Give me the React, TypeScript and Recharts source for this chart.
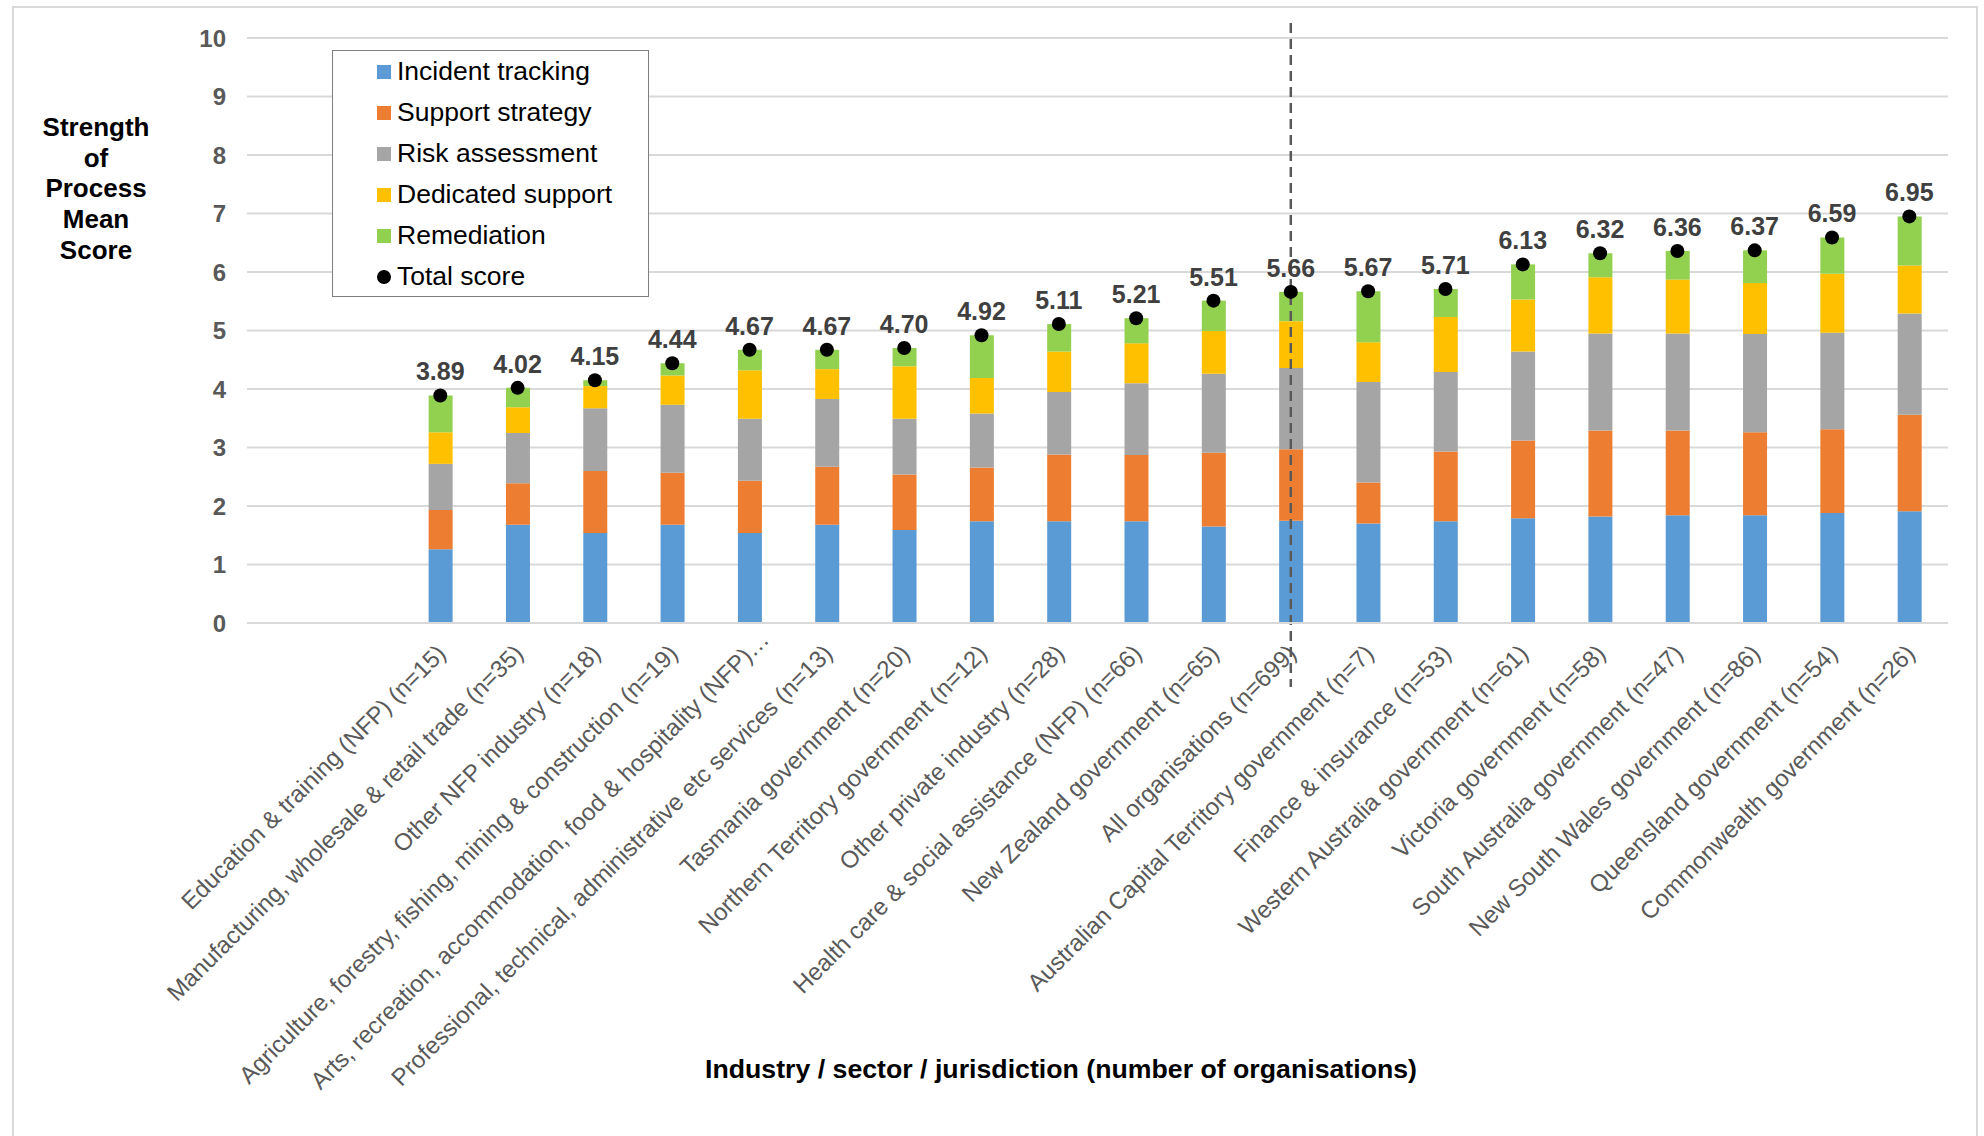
import React from 'react';
import {
  ComposedChart,
  Bar,
  Line,
  XAxis,
  YAxis,
  CartesianGrid,
  Legend,
  Label,
  LabelList,
  ReferenceLine,
} from 'recharts';

const categories = [
  'Education & training (NFP) (n=15)',
  'Manufacturing, wholesale & retail trade (n=35)',
  'Other NFP industry (n=18)',
  'Agriculture, forestry, fishing, mining & construction (n=19)',
  'Arts, recreation, accommodation, food & hospitality (NFP)…',
  'Professional, technical, administrative etc services (n=13)',
  'Tasmania government (n=20)',
  'Northern Territory government (n=12)',
  'Other private industry (n=28)',
  'Health care & social assistance (NFP) (n=66)',
  'New Zealand government (n=65)',
  'All organisations (n=699)',
  'Australian Capital Territory government (n=7)',
  'Finance & insurance (n=53)',
  'Western Australia government (n=61)',
  'Victoria government (n=58)',
  'South Australia government (n=47)',
  'New South Wales government (n=86)',
  'Queensland government (n=54)',
  'Commonwealth government (n=26)',
];

// two empty slots sit left of the first bar in the original
const leadingBlanks = ['', ' '];

const incidentTracking = [1.26, 1.68, 1.54, 1.68, 1.54, 1.68, 1.59, 1.74, 1.74, 1.74, 1.65, 1.75, 1.7, 1.74, 1.79, 1.82, 1.84, 1.84, 1.88, 1.91];
const supportStrategy = [0.67, 0.71, 1.06, 0.89, 0.89, 0.99, 0.95, 0.92, 1.14, 1.13, 1.26, 1.22, 0.7, 1.19, 1.33, 1.47, 1.45, 1.42, 1.43, 1.65];
const riskAssessment = [0.79, 0.86, 1.07, 1.16, 1.06, 1.16, 0.95, 0.92, 1.07, 1.23, 1.35, 1.39, 1.72, 1.36, 1.52, 1.66, 1.66, 1.68, 1.65, 1.73];
const dedicatedSupport = [0.54, 0.44, 0.38, 0.5, 0.83, 0.51, 0.9, 0.61, 0.69, 0.68, 0.73, 0.8, 0.68, 0.94, 0.89, 0.96, 0.92, 0.87, 1.01, 0.82];
const remediation = [0.63, 0.33, 0.1, 0.21, 0.35, 0.33, 0.31, 0.73, 0.47, 0.43, 0.52, 0.5, 0.87, 0.48, 0.6, 0.41, 0.49, 0.56, 0.62, 0.84];
const totalScore = [3.89, 4.02, 4.15, 4.44, 4.67, 4.67, 4.7, 4.92, 5.11, 5.21, 5.51, 5.66, 5.67, 5.71, 6.13, 6.32, 6.36, 6.37, 6.59, 6.95];

const yTicks = [0, 1, 2, 3, 4, 5, 6, 7, 8, 9, 10];
const dividerCategory = 'All organisations (n=699)';

const series = [
  { key: 'incident', name: 'Incident tracking', color: '#5B9BD5' },
  { key: 'support', name: 'Support strategy', color: '#ED7D31' },
  { key: 'risk', name: 'Risk assessment', color: '#A5A5A5' },
  { key: 'dedicated', name: 'Dedicated support', color: '#FFC000' },
  { key: 'remediation', name: 'Remediation', color: '#92D050' },
];

const data = [
  ...leadingBlanks.map((name) => ({ name })),
  ...categories.map((name, i) => ({
    name,
    incident: incidentTracking[i],
    support: supportStrategy[i],
    risk: riskAssessment[i],
    dedicated: dedicatedSupport[i],
    remediation: remediation[i],
    total: totalScore[i],
  })),
];

const FONT = '"Liberation Sans", Arial, sans-serif';

const XTick = (props: any) => {
  const { x, y, payload } = props;
  // the truncated label overhangs its slot a bit further in the original
  const nudge = String(payload.value).endsWith('…') ? 14 : 0;
  return (
    <text
      transform={`translate(${x + 1 + nudge},${y + 26 - nudge}) rotate(-45)`}
      textAnchor="end"
      dy="0.35em"
      fontSize={24}
      fill="#595959"
      fontFamily={FONT}
    >
      {payload.value}
    </text>
  );
};

const TotalLabel = (props: any) => {
  const { x, y, value } = props;
  if (value == null) return null;
  return (
    <text x={x} y={y - 15} textAnchor="middle" fontSize={25} fontWeight="bold" fill="#404040" fontFamily={FONT}>
      {Number(value).toFixed(2)}
    </text>
  );
};

const YTitle = () => (
  <text textAnchor="middle" fontSize={26} fontWeight="bold" fill="#000" fontFamily={FONT}>
    {['Strength', 'of', 'Process', 'Mean', 'Score'].map((w, i) => (
      <tspan key={w} x={96} y={136 + i * 30.7}>
        {w}
      </tspan>
    ))}
  </text>
);

const XTitle = () => (
  <text
    x={1061}
    y={1078}
    textAnchor="middle"
    fontSize={26}
    fontWeight="bold"
    fill="#000"
    fontFamily={FONT}
    textLength={712}
    lengthAdjust="spacingAndGlyphs"
  >
    Industry / sector / jurisdiction (number of organisations)
  </text>
);

const LegendBox = () => (
  <div
    style={{
      width: 317,
      height: 247,
      border: '1.5px solid #7f7f7f',
      boxSizing: 'border-box',
      background: '#fff',
      fontFamily: FONT,
      fontSize: 26.5,
      color: '#000',
      paddingTop: 0,
    }}
  >
    {series.map((s) => (
      <div key={s.key} style={{ display: 'flex', alignItems: 'center', height: 41, paddingLeft: 44 }}>
        <span style={{ width: 14, height: 14, background: s.color, marginRight: 6, display: 'inline-block' }} />
        <span>{s.name}</span>
      </div>
    ))}
    <div style={{ display: 'flex', alignItems: 'center', height: 41, paddingLeft: 44 }}>
      <span style={{ width: 14, height: 14, borderRadius: 7, background: '#000', marginRight: 6, display: 'inline-block' }} />
      <span>Total score</span>
    </div>
  </div>
);

const Divider = (p: any) => {
  const top = Math.min(p.y1, p.y2) - 15;
  const bottom = Math.max(p.y1, p.y2) + 64;
  return <line x1={p.x1} x2={p.x2} y1={top} y2={bottom} stroke="#595959" strokeWidth={2.5} strokeDasharray="10 6" />;
};

export default function App() {
  return (
    <div style={{ position: 'absolute', left: 0, top: 0, width: 1984, height: 1136, overflow: 'hidden', background: '#fff' }}>
      <div
        style={{
          position: 'absolute',
          left: 12,
          top: 6,
          width: 1966,
          height: 1200,
          border: '2px solid #d9d9d9',
          boxSizing: 'border-box',
        }}
      />
      <div style={{ position: 'absolute', left: 0, top: 0 }}>
        <ComposedChart width={1984} height={1136} data={data} margin={{ top: 38, right: 36, bottom: 0, left: 0 }}>
          <CartesianGrid horizontal vertical={false} stroke="#d9d9d9" strokeWidth={2} />
          <XAxis
            dataKey="name"
            height={513}
            interval={0}
            tickLine={false}
            tickSize={0}
            tickMargin={0}
            axisLine={{ stroke: '#d9d9d9', strokeWidth: 2 }}
            tick={(p: any) => <XTick {...p} />}
          >
            <Label content={XTitle} />
          </XAxis>
          <YAxis
            width={247}
            domain={[0, 10]}
            ticks={yTicks}
            interval={0}
            axisLine={false}
            tickLine={false}
            tickSize={0}
            tickMargin={21}
            tick={{ fontSize: 24, fontWeight: 'bold', fill: '#595959', fontFamily: FONT }}
          >
            <Label content={YTitle} />
          </YAxis>
          <Legend
            layout="vertical"
            align="center"
            verticalAlign="middle"
            content={LegendBox}
            wrapperStyle={{ position: 'absolute', left: 332, top: 50, width: 317, height: 247 }}
          />
          {series.map((s) => (
            <Bar key={s.key} dataKey={s.key} name={s.name} stackId="a" fill={s.color} barSize={24} isAnimationActive={false} />
          ))}
          <ReferenceLine x={dividerCategory} shape={Divider} />
          <Line
            dataKey="total"
            name="Total score"
            stroke="none"
            dot={{ r: 7, fill: '#000', stroke: '#000', strokeWidth: 0 }}
            activeDot={false}
            isAnimationActive={false}
          >
            <LabelList dataKey="total" content={TotalLabel} />
          </Line>
        </ComposedChart>
      </div>
    </div>
  );
}
